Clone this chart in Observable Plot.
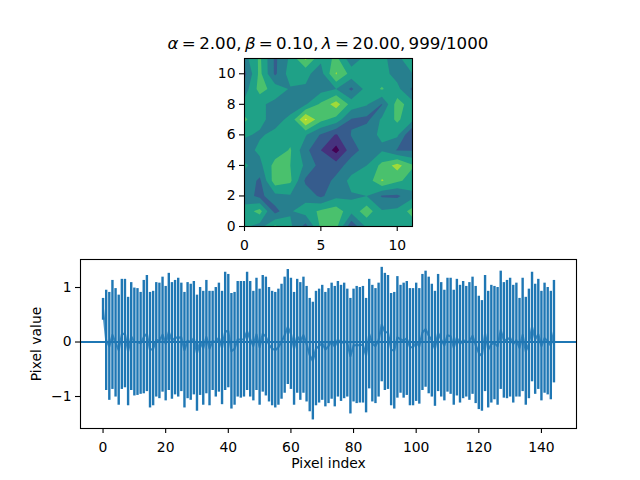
<!DOCTYPE html>
<html><head><meta charset="utf-8">
<script src="https://cdn.jsdelivr.net/npm/d3@7"></script>
<script src="https://cdn.jsdelivr.net/npm/@observablehq/plot@0.6"></script>
<style>
html,body{margin:0;padding:0;background:#fff;width:640px;height:480px;overflow:hidden}
#wrap{position:relative;width:640px;height:480px}
#wrap>svg{position:absolute;left:0;top:0}
#title{position:absolute;left:0;width:656px;top:34px;text-align:center;font:16.67px "DejaVu Sans";color:#000;white-space:nowrap}
</style></head><body>
<div id="wrap"><div id="title"><i>α</i>&#8201;=&#8201;2.00,&#8201;<i>β</i>&#8201;=&#8201;0.10,&#8201;<i>λ</i>&#8201;=&#8201;20.00,&#8201;999/1000</div></div>
<script>
// contour grid, rows bottom (y=0) to top (y=11)
const gridRow0  = [4.2,3.6,5.2,4.2,2.6,5.2,5.3,2.2,4.2,4.2,4.2,4.4];
const gridRow1  = [4.4,5.4,2.6,3.9,4.5,5.2,5.6,4.3,5.6,4.1,4.3,5.4];
const gridRow2  = [3.5,2.7,3.7,3.9,3.6,2.8,3.7,3.9,4.0,2.9,2.8,3.7];
const gridRow3  = [3.7,2.8,5.6,5.2,2.8,2.4,3.3,4.3,4.3,6.1,5.2,4.6];
const gridRow4  = [4.1,3.7,5.4,5.0,3.8,2.6,2.5,3.5,4.0,5.3,6.4,5.1];
const gridRow5  = [3.6,4.2,4.4,5.1,3.3,2.0,0.6,2.6,3.4,3.9,2.9,2.9];
const gridRow6  = [4.1,3.9,4.2,4.6,4.1,2.9,1.9,3.05,3.8,4.1,4.2,1.9];
const gridRow7  = [5.2,4.2,3.7,4.2,7.2,5.3,4.6,2.9,2.7,4.2,5.2,4.2];
const gridRow8  = [4.3,4.2,3.7,3.6,3.9,5.2,6.5,4.6,4.1,2.95,5.5,4.4];
const gridRow9  = [3.5,5.4,4.6,3.9,3.9,3.6,4.0,2.8,4.4,5.1,4.3,2.8];
const gridRow10 = [2.7,5.3,2.8,4.5,4.2,3.6,6.1,4.6,4.6,4.4,3.6,4.0];
const gridRow11 = [3.6,5.2,2.8,4.2,6.2,4.2,5.3,3.3,4.4,4.2,3.6,5.1];
const levels = [0,1,2,3,4,5,6,7];
const palette = ["#440154","#46327e","#365c8d","#277f8e","#1fa187","#4ac16d","#a0da39","#fde725"];
// error-bar upper and lower ends per pixel index
const upper = [.80,.95,.91,1.13,.98,.86,1.15,1.15,.82,1.09,
.99,.98,.91,1.13,1.22,.91,.93,1.09,1.08,1.19,
1.02,1.26,1.09,1.13,1.17,1.08,.91,1.09,1.06,1.11,
.86,1.00,.93,1.13,.93,.93,1.00,1.08,.93,1.28,
1.24,.89,.91,1.11,1.11,1.11,1.28,1.11,.93,1.17,
.97,1.22,1.19,1.00,.93,.91,.97,1.06,1.19,1.33,
1.17,.91,1.15,1.09,1.19,1.02,.80,.73,.93,.97,
1.04,.91,.98,1.08,1.02,1.11,1.04,1.08,.97,.80,
.97,1.02,1.00,1.02,.80,1.15,1.04,.98,1.08,1.37,
1.26,1.22,.89,.91,1.20,1.04,1.08,1.11,.98,.98,
1.08,.98,1.24,1.30,1.19,1.06,.93,1.24,1.09,.95,
1.17,1.17,.95,1.15,1.04,1.11,1.02,1.09,1.19,1.02,
.84,.76,1.22,.93,1.04,1.02,1.00,1.30,1.09,1.13,
1.17,1.04,1.08,.80,1.17,.82,.97,1.28,1.06,1.15,
.93,1.08,1.00,.93,1.13];
const lower = [.40,-.89,-1.07,-.87,-1.01,-1.16,-.87,-.84,-1.17,-.89,
-.99,-.98,-.96,-.95,-.91,-1.21,-1.17,-1.01,-1.04,-.92,
-1.08,-.89,-1.05,-.97,-1.01,-.91,-1.21,-1.04,-1.07,-.97,
-1.27,-.98,-1.16,-.95,-1.17,-.89,-1.01,-.92,-1.15,-.89,
-.84,-1.23,-1.16,-1.01,-1.03,-1.01,-.89,-1.01,-1.08,-.89,
-1.16,-.92,-.99,-1.10,-1.17,-1.21,-1.16,-1.05,-.94,-.78,
-.87,-1.16,-.94,-1.07,-.94,-1.10,-1.28,-1.43,-1.17,-1.12,
-1.07,-1.19,-1.13,-1.05,-1.19,-1.01,-1.09,-1.04,-1.01,-1.32,
-1.10,-1.13,-1.12,-1.12,-1.30,-.86,-1.10,-1.13,-1.01,-.73,
-.89,-.87,-1.17,-1.23,-1.03,-.94,-1.03,-.98,-1.17,-1.17,
-1.09,-1.14,-.89,-.83,-.95,-1.01,-1.18,-.91,-1.01,-1.08,
-.92,-.96,-1.16,-.99,-1.12,-1.04,-1.01,-1.07,-.96,-1.13,
-1.24,-1.27,-.91,-1.21,-1.12,-1.06,-1.16,-.87,-1.03,-1.04,
-1.01,-1.12,-1.01,-1.01,-.91,-1.16,-1.04,-.73,-.96,-.87,
-1.08,-.94,-.97,-1.06,-.75];
const xTicksTop = [0,5,10];
const yTicksTop = [0,2,4,6,8,10];
const xTicksBottom = [0,20,40,60,80,100,120,140];
const yTicksBottom = [-1,0,1];

const blue = "#1f77b4";
const font = {fontFamily:"DejaVu Sans",fontSize:"13.9px",background:"transparent",color:"#000"};
const grid = [gridRow0,gridRow1,gridRow2,gridRow3,gridRow4,gridRow5,gridRow6,gridRow7,gridRow8,gridRow9,gridRow10,gridRow11];
const values = grid.flat();
const table = upper.map((u,i)=>({i,u,l:lower[i],m:(u+lower[i])/2}));
const axisOpts = {tickSize:5,strokeWidth:1.1,stroke:"#000"};
const fmt = d3.format("d");

const top_ = Plot.plot({
  width:640,height:480,marginLeft:244,marginRight:228,marginTop:58,marginBottom:254,
  style:font,
  x:{domain:[0,11]},y:{domain:[0,11]},
  color:{type:"ordinal",domain:levels,range:palette},
  marks:[
    Plot.contour(values,{width:12,height:12,x1:-.5,y1:-.5,x2:11.5,y2:11.5,thresholds:levels,fill:Plot.identity,clip:true}),
    Plot.frame({stroke:"#000",strokeWidth:1.1}),
    Plot.axisX({ticks:xTicksTop,tickFormat:fmt,label:null,tickPadding:9,...axisOpts}),
    Plot.axisY({ticks:yTicksTop,tickFormat:fmt,label:null,tickPadding:4,...axisOpts})
  ]
});
const bottom_ = Plot.plot({
  width:640,height:480,marginLeft:80,marginRight:64,marginTop:259,marginBottom:52,
  style:font,
  x:{domain:[-7.2,151.2]},y:{domain:[-1.587,1.514]},
  marks:[
    Plot.ruleY([0],{stroke:blue,strokeWidth:2.08}),
    Plot.ruleX(table,{x:"i",y1:"l",y2:"u",stroke:blue,strokeWidth:2.4}),
    Plot.line(table,{x:"i",y:"m",stroke:blue,strokeWidth:2.08,strokeOpacity:0.8}),
    Plot.frame({stroke:"#000",strokeWidth:1.1}),
    Plot.axisX({ticks:xTicksBottom,tickFormat:fmt,label:"Pixel index",labelAnchor:"center",labelArrow:"none",labelOffset:39,tickPadding:9,...axisOpts}),
    Plot.axisY({ticks:yTicksBottom,tickFormat:fmt,label:"Pixel value",labelAnchor:"center",labelArrow:"none",labelOffset:49,tickPadding:4,...axisOpts})
  ]
});
const w = document.getElementById("wrap");
w.appendChild(top_);
w.appendChild(bottom_);
</script>
</body></html>
